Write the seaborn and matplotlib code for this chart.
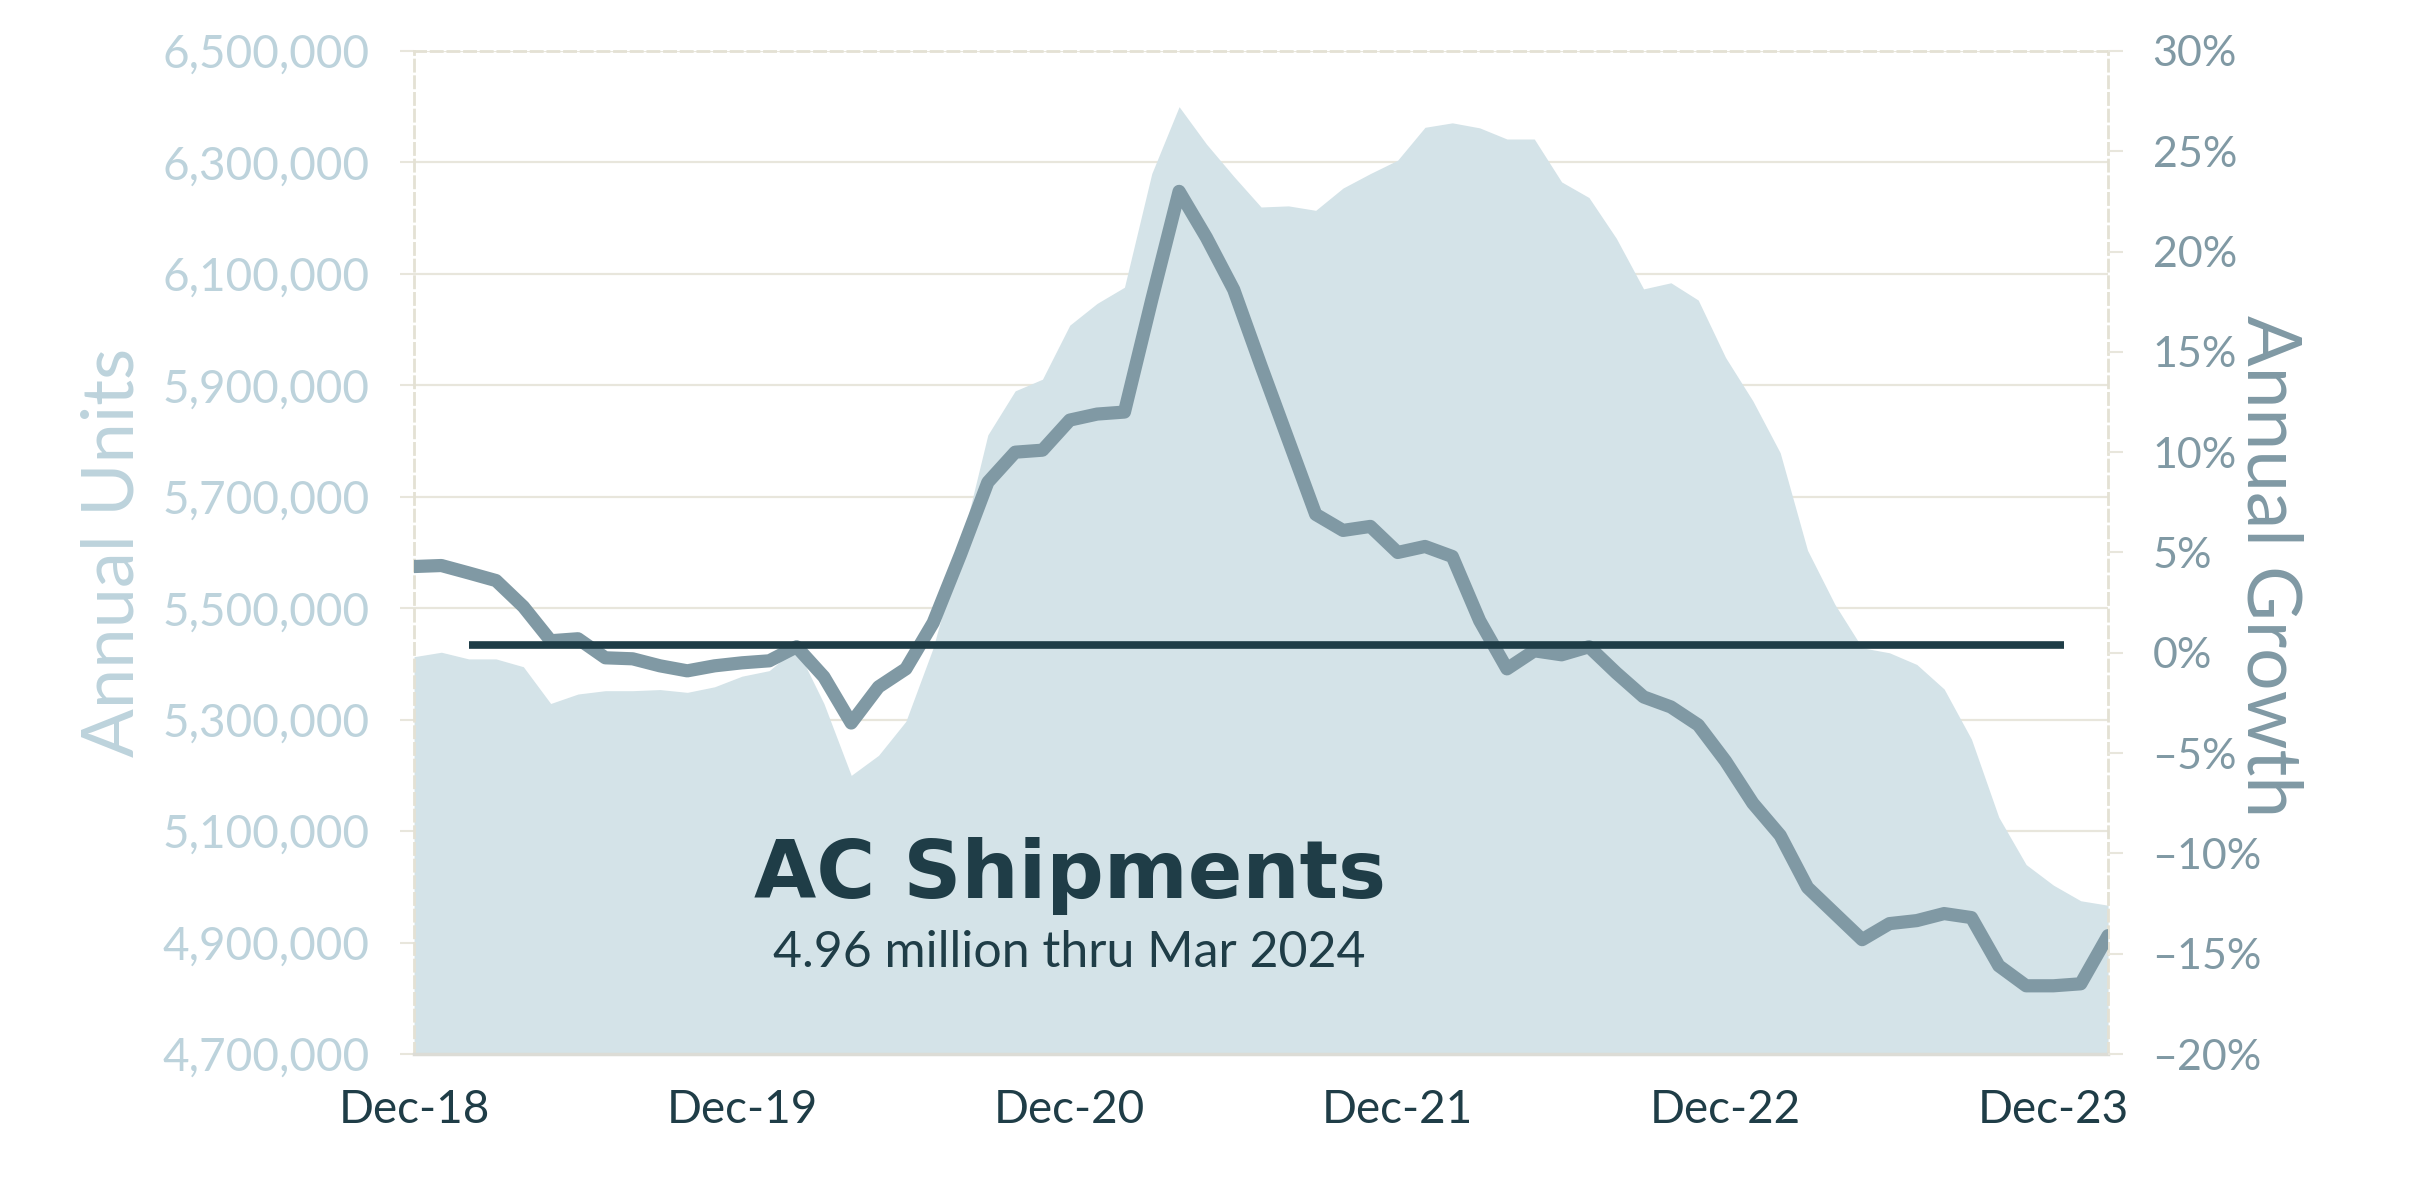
#Libs para dados
import numpy as np
import pandas as pd

#Libs para graficos
import matplotlib
matplotlib.use('Agg')
import matplotlib.pyplot as plt
import seaborn as sns
from matplotlib.ticker import FuncFormatter

#Todo: valores (indice 0 = tick Dec-18, um ponto por mes)
Annual_Units = [5413000, 5421000, 5409000, 5409000, 5395000, 5329000, 5346000, 5352000,
                5352000, 5354000, 5349000, 5359000, 5378000, 5388000, 5429000, 5329000,
                5200000, 5236000, 5297000, 5429000, 5609000, 5811000, 5890000, 5911000,
                6008000, 6047000, 6076000, 6280000, 6400000, 6333000, 6275000, 6220000,
                6222000, 6214000, 6254000, 6280000, 6304000, 6363000, 6371000, 6362000,
                6342000, 6342000, 6265000, 6237000, 6164000, 6073000, 6084000, 6053000,
                5950000, 5872000, 5779000, 5604000, 5507000, 5429000, 5420000, 5399000,
                5355000, 5265000, 5125000, 5040000, 5003000, 4975000, 4967000]

Annual_Growth = [4.3, 4.35, 3.98, 3.6, 2.3, 0.6, 0.7, -0.25, -0.3, -0.65, -0.9, -0.65,
                 -0.5, -0.4, 0.3, -1.2, -3.5, -1.7, -0.8, 1.5, 4.9, 8.5, 10.0, 10.1,
                 11.6, 11.9, 12.0, 17.6, 23.0, 20.7, 18.1, 14.3, 10.6, 6.9, 6.1, 6.3,
                 5.0, 5.3, 4.8, 1.6, -0.8, 0.1, -0.1, 0.3, -1.0, -2.2, -2.7, -3.6,
                 -5.4, -7.5, -9.1, -11.7, -13.0, -14.3, -13.5, -13.35, -13.0, -13.2, -15.6, -16.6,
                 -16.6, -16.5, -14.1]

Tick_Months = [0, 12, 24, 36, 48, 60]
Tick_Labels = ['Dec-18', 'Dec-19', 'Dec-20', 'Dec-21', 'Dec-22', 'Dec-23']

#Linha horizontal escura (eixo da direita) e seu inicio/fim em meses
Linha_Ref = 0.4
Linha_Inicio = 2
Linha_Fim = 60.4

Titulo = 'AC Shipments'
Subtitulo = '4.96 million thru Mar 2024'

Base_Dados = pd.DataFrame({'Month': np.arange(len(Annual_Units)),
                           'Units': Annual_Units,
                           'Growth': Annual_Growth})

#Cores
Cor_Area = '#d4e3e8'
Cor_Linha = '#8099a4'
Cor_Escura = '#1f3d47'
Cor_Eixo_Esq = '#bdd3dc'
Cor_Grade = '#e8e6dc'

#Estilo
sns.set_style('white')
plt.rcParams['font.family'] = ['Lato', 'DejaVu Sans']

#Tamanho
fig = plt.figure(figsize=(24.2, 11.77), dpi=100)
ax = fig.add_axes([0.1711, 0.1045, 0.7, 0.8522])

#Area - unidades anuais
ax.fill_between(Base_Dados['Month'], Base_Dados['Units'], 4700000, color=Cor_Area, linewidth=0, zorder=2)
ax.set_xlim(0, len(Annual_Units) - 1)
ax.set_ylim(4700000, 6500000)
ax.set_yticks(range(4700000, 6500001, 200000))
ax.yaxis.set_major_formatter(FuncFormatter(lambda v, p: f'{v:,.0f}'))
ax.grid(axis='y', color=Cor_Grade, linewidth=1.6, zorder=0)
ax.set_axisbelow(True)

ax.set_xticks(Tick_Months)
ax.set_xticklabels(Tick_Labels)
ax.tick_params(axis='x', length=0, pad=25, labelsize=33, labelcolor=Cor_Escura)
ax.tick_params(axis='y', length=10, width=1.5, color=Cor_Grade, pad=22, labelsize=33, labelcolor=Cor_Eixo_Esq)
ax.set_xlabel('')

#Bordas
for lado in ['left', 'right', 'top']:
    ax.spines[lado].set_color('#e4e1d4')
    ax.spines[lado].set_linewidth(2)
    ax.spines[lado].set_linestyle((0, (4, 2)))
ax.spines['bottom'].set_color('#dcdcd6')
ax.spines['bottom'].set_linewidth(2.5)

ax.set_ylabel('Annual Units', fontsize=52, color=Cor_Eixo_Esq)
ax.yaxis.label.set_va('center')
ax.yaxis.set_label_coords(-0.178, 0.5)

#Linha - crescimento anual
ax2 = ax.twinx()
sns.lineplot(data=Base_Dados, x='Month', y='Growth', ax=ax2, color=Cor_Linha, linewidth=9.5)
ax2.hlines(Linha_Ref, Linha_Inicio, Linha_Fim, color=Cor_Escura, linewidth=5.5, zorder=5)
ax2.set_ylim(-20, 30)
ax2.set_yticks(range(-20, 31, 5))
ax2.yaxis.set_major_formatter(FuncFormatter(lambda v, p: ('\u2013' if v < 0 else '') + f'{abs(v):.0f}%'))
ax2.tick_params(axis='y', length=11, width=1.5, color=Cor_Grade, pad=21, labelsize=31, labelcolor=Cor_Linha)
for lado in ['left', 'right', 'top', 'bottom']:
    ax2.spines[lado].set_visible(False)
ax2.set_xlabel('')
ax2.set_ylabel('Annual Growth', fontsize=54, color=Cor_Linha, rotation=270)
ax2.yaxis.label.set_va('center')
ax2.yaxis.set_label_coords(1.095, 0.4866)

#Titulo dentro do grafico
ax.text(0.387, 0.177, Titulo, transform=ax.transAxes, ha='center', va='center',
        fontsize=58, fontweight='bold', family='DejaVu Sans', color=Cor_Escura, zorder=6)
ax.text(0.387, 0.101, Subtitulo, transform=ax.transAxes, ha='center', va='center',
        fontsize=36, color=Cor_Escura, zorder=6)

fig.savefig('out.png', dpi=100)
